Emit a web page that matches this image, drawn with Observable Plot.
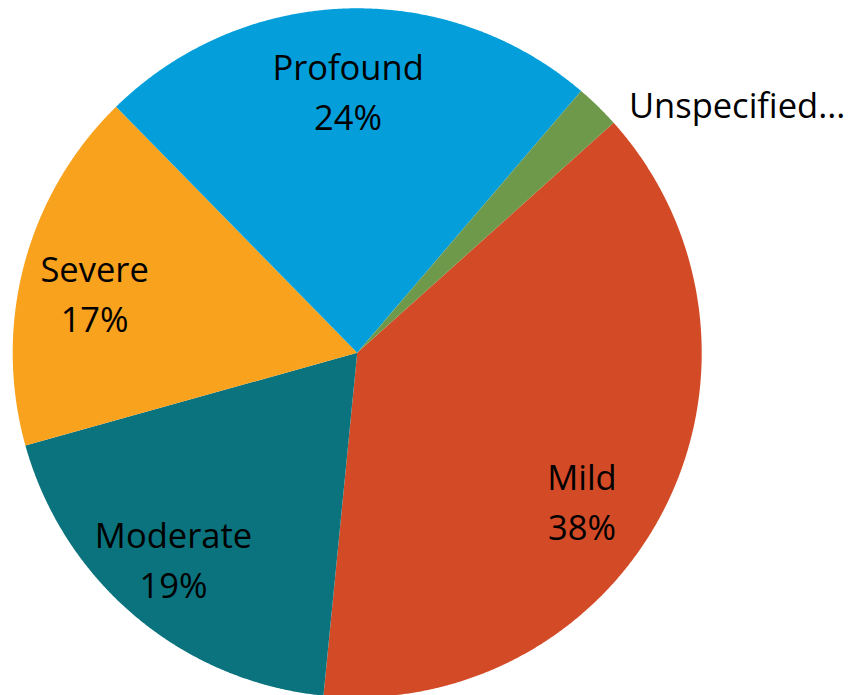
<!DOCTYPE html>
<html><head><meta charset="utf-8">
<script src="https://cdn.jsdelivr.net/npm/d3@7"></script>
<script src="https://cdn.jsdelivr.net/npm/@observablehq/plot@0.6"></script>
<style>
html,body{margin:0;padding:0;background:#fff;}
#chart{width:854px;height:695px;overflow:hidden;}
</style>
</head><body><div id="chart"></div>
<script>
// ---- data ----
const categories = ["Mild", "Moderate", "Severe", "Profound", "Unspecified"];
const shares = [38.2, 19.1, 17.0, 23.6, 2.1];
const pctLabels = ["38%", "19%", "17%", "24%", ""];
const shownNames = ["Mild", "Moderate", "Severe", "Profound", "Unspecified..."];

// ---- style ----
const colors = ["#D34A26", "#0B737D", "#F8A21E", "#049FDA", "#6E994A"];
const W = 854, H = 695;
const cx = 356.7, cy = 352.3, R = 344.5;   // pixel layout of the pie
const startDeg = 48.1;
const fontSize = 34.5;
const font = "'Open Sans', 'Noto Sans', sans-serif";

const rows = categories.map((c, i) => ({name: c, value: shares[i], pct: pctLabels[i], shown: shownNames[i]}));
const a0 = startDeg * Math.PI / 180;
const arcs = d3.pie().sort(null).value(d => d.value).startAngle(a0).endAngle(a0 + 2 * Math.PI)(rows);

// polygon outline for each slice (unit radius)
const pts = [];
arcs.forEach(a => {
  const n = Math.max(2, Math.ceil((a.endAngle - a.startAngle) / (Math.PI / 720)));
  pts.push({name: a.data.name, x: 0, y: 0});
  for (let k = 0; k <= n; k++) {
    const t = a.startAngle + (a.endAngle - a.startAngle) * k / n;
    pts.push({name: a.data.name, x: Math.sin(t), y: Math.cos(t)});
  }
  pts.push({name: a.data.name, x: 0, y: 0});
});

// label anchors
const nudge = {Mild: [-15, 25], Moderate: [-11, -2], Severe: [-3, 8], Profound: [0, 5], Unspecified: [31, -4]};
const labelMarks = arcs.map(a => {
  const m = (a.startAngle + a.endAngle) / 2;
  const inside = a.data.pct !== "";
  const rr = inside ? 0.78 : 1.0;
  const d = {x: rr * Math.sin(m), y: rr * Math.cos(m), text: inside ? a.data.shown + "\n" + a.data.pct : a.data.shown};
  const [dx, dy] = nudge[a.data.name];
  return Plot.text([d], {
    x: "x", y: "y", text: "text", dx, dy,
    fontSize, lineHeight: 50 / fontSize,
    textAnchor: inside ? "middle" : "start",
    fill: "#000"
  });
});

const chart = Plot.plot({
  width: W, height: H,
  margin: 0,
  x: {domain: [-cx / R, (W - cx) / R], axis: null},
  y: {domain: [-(H - cy) / R, cy / R], axis: null},
  color: {domain: categories, range: colors},
  style: {fontFamily: font, background: "white", overflow: "hidden"},
  marks: [
    Plot.line(pts, {x: "x", y: "y", z: "name", fill: "name", stroke: "none"}),
    ...labelMarks
  ]
});
document.getElementById("chart").appendChild(chart);
</script>
</body></html>
